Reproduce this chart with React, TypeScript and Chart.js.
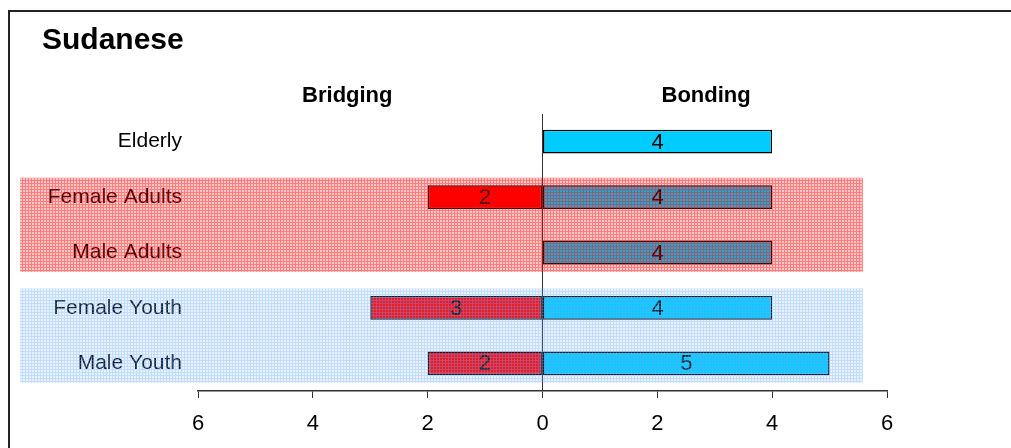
import React, { useEffect, useRef } from 'react';
import { Chart, registerables } from 'chart.js';

Chart.register(...registerables);

// Rows of the chart, top to bottom
const categories = ['Elderly', 'Female Adults', 'Male Adults', 'Female Youth', 'Male Youth'];
// Bridging ties are drawn to the left of zero, bonding ties to the right
const bridging: (number | null)[] = [null, -2, null, -3, -2];
const bonding: number[] = [4, 4, 4, 4, 5];
const xTickValues = [-6, -4, -2, 0, 2, 4, 6];

const chartTitle = 'Sudanese';
const leftHeader = 'Bridging';
const rightHeader = 'Bonding';

const FONT = "'Liberation Sans', Arial, sans-serif";

// Hatched overlays marking the adult and youth groups (category index ranges)
const groupBands = [
  { from: 0.65, to: 2.35, rgb: '255,0,0', strong: 0.5, weak: 0.22 },
  { from: 2.65, to: 4.35, rgb: '110,175,255', strong: 0.42, weak: 0.16 },
];
const bandValueRange = [-9.1, 5.58];

function makePattern(ctx: CanvasRenderingContext2D, rgb: string, strong: number, weak: number) {
  const tile = document.createElement('canvas');
  tile.width = 3;
  tile.height = 3;
  const g = tile.getContext('2d')!;
  for (let y = 0; y < 3; y++) {
    for (let x = 0; x < 3; x++) {
      const a = x === 0 || y === 0 ? strong : weak;
      g.fillStyle = `rgba(${rgb},${a})`;
      g.fillRect(x, y, 1, 1);
    }
  }
  return ctx.createPattern(tile, 'repeat');
}

const headerPlugin = {
  id: 'headers',
  afterDraw(chart: any) {
    const { ctx } = chart;
    const xs = chart.scales.x;
    ctx.save();
    ctx.fillStyle = '#000';
    ctx.textBaseline = 'alphabetic';
    ctx.textAlign = 'left';
    ctx.font = `bold 30px ${FONT}`;
    ctx.fillText(chartTitle, 32, 37);
    ctx.font = `bold 22px ${FONT}`;
    ctx.textAlign = 'center';
    ctx.fillText(leftHeader, xs.getPixelForValue(-3.4), 90);
    ctx.fillText(rightHeader, xs.getPixelForValue(2.85), 90);
    ctx.restore();
  },
};

const valueLabelPlugin = {
  id: 'valueLabels',
  afterDatasetsDraw(chart: any) {
    const { ctx } = chart;
    ctx.save();
    ctx.font = `22px ${FONT}`;
    ctx.fillStyle = '#000';
    ctx.textAlign = 'center';
    ctx.textBaseline = 'middle';
    chart.data.datasets.forEach((ds: any, i: number) => {
      const meta = chart.getDatasetMeta(i);
      meta.data.forEach((el: any, j: number) => {
        const v = ds.data[j];
        if (v === null || v === undefined) return;
        ctx.fillText(String(Math.abs(v)), (el.x + el.base) / 2, el.y + 1);
      });
    });
    ctx.restore();
  },
};

const bandPlugin = {
  id: 'groupBands',
  afterDraw(chart: any) {
    const { ctx } = chart;
    const xs = chart.scales.x;
    const ys = chart.scales.y;
    const left = xs.getPixelForValue(bandValueRange[0]);
    const right = xs.getPixelForValue(bandValueRange[1]);
    ctx.save();
    groupBands.forEach((b) => {
      const top = ys.getPixelForValue(b.from);
      const bottom = ys.getPixelForValue(b.to);
      const pat = makePattern(ctx, b.rgb, b.strong, b.weak);
      if (pat) ctx.fillStyle = pat;
      ctx.fillRect(left, top, right - left, bottom - top);
    });
    ctx.restore();
  },
};

export default function App() {
  const canvasRef = useRef<HTMLCanvasElement | null>(null);

  useEffect(() => {
    if (!canvasRef.current) return;
    const chart = new Chart(canvasRef.current, {
      type: 'bar',
      data: {
        labels: categories,
        datasets: [
          {
            label: leftHeader,
            data: bridging,
            backgroundColor: '#FF0000',
            borderColor: '#000',
            borderWidth: 1.5,
            borderSkipped: false,
            barPercentage: 0.43,
            categoryPercentage: 1,
          },
          {
            label: rightHeader,
            data: bonding,
            backgroundColor: '#00CCFF',
            borderColor: '#000',
            borderWidth: 1.5,
            borderSkipped: false,
            barPercentage: 0.43,
            categoryPercentage: 1,
          },
        ],
      },
      options: {
        indexAxis: 'y',
        responsive: false,
        animation: false,
        layout: { padding: { top: 102, right: 124, left: 0, bottom: 0 } },
        plugins: {
          legend: { display: false },
          tooltip: { enabled: false },
          title: { display: false },
        },
        scales: {
          x: {
            stacked: true,
            min: -6,
            max: 6,
            afterBuildTicks: (scale: any) => {
              scale.ticks = xTickValues.map((v) => ({ value: v }));
            },
            afterFit: (scale: any) => {
              scale.height = 57;
            },
            ticks: {
              color: '#000',
              font: { family: FONT, size: 22 },
              padding: 13,
              maxRotation: 0,
              autoSkip: false,
              callback: (v: any) => String(Math.abs(Number(v))),
            },
            grid: {
              display: true,
              drawOnChartArea: true,
              drawTicks: true,
              tickLength: 7,
              tickColor: '#333',
              lineWidth: 1,
              color: (c: any) => (c.tick && c.tick.value === 0 ? '#333' : 'rgba(0,0,0,0)'),
            },
            border: { display: true, color: '#333', width: 1.5 },
          },
          y: {
            stacked: true,
            afterFit: (scale: any) => {
              scale.width = 188;
            },
            ticks: {
              color: '#000',
              font: { family: FONT, size: 21 },
              padding: 8,
            },
            grid: { display: false },
            border: { display: false },
          },
        },
      },
      plugins: [valueLabelPlugin, headerPlugin, bandPlugin],
    } as any);
    return () => chart.destroy();
  }, []);

  return (
    <div
      style={{
        position: 'absolute',
        left: 8,
        top: 10,
        width: 1003,
        height: 438,
        borderLeft: '2px solid #222',
        borderTop: '2px solid #222',
        boxSizing: 'border-box',
        background: '#fff',
      }}
    >
      <canvas ref={canvasRef} width={1001} height={436} style={{ display: 'block' }} />
    </div>
  );
}
